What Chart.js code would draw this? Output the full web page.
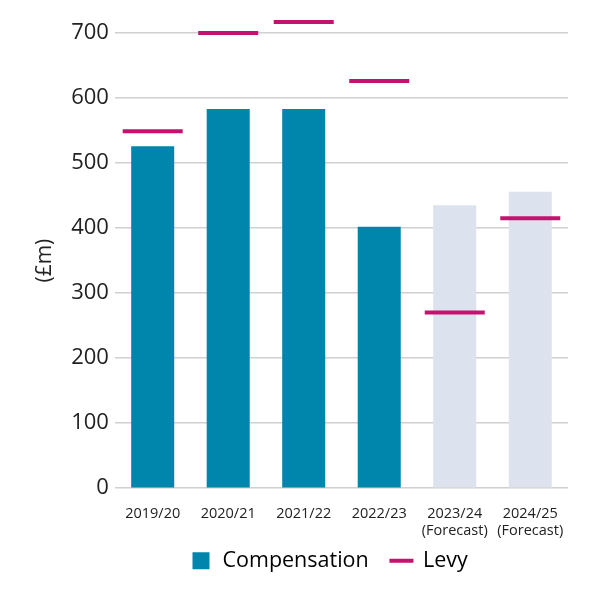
<!DOCTYPE html>
<html>
<head>
<meta charset="utf-8">
<script src="https://cdn.jsdelivr.net/npm/chart.js@4"></script>
<style>
  body { margin: 0; background: #fff; }
  #wrap { width: 591px; height: 599px; }
</style>
</head>
<body>
<div id="wrap"><canvas id="myChart"></canvas></div>
<script>
const labels = ['2019/20', '2020/21', '2021/22', '2022/23', ['2023/24', '(Forecast)'], ['2024/25', '(Forecast)']];
const compensation = [526, 583, 583, 402, 435, 456];
const levy = [549, 700, 717, 626, 270, 415];
const barColors = ['#0086ad', '#0086ad', '#0086ad', '#0086ad', '#dce3ee', '#dce3ee'];

const teal = '#0086ad';
const magenta = '#c8106e';

// nudge the legend so it sits under the plot area like in the original
const legendShift = {
    id: 'legendShift',
    afterLayout(chart) {
        const lg = chart.legend;
        lg.left += 31;
        lg.right += 31;
        lg.top -= 21;
        lg.bottom -= 21;
    }
};

function createChart() {
    const ctx = document.getElementById('myChart');
    new Chart(ctx, {
        data: {
            labels: labels,
            datasets: [{
                type: 'bar',
                label: 'Compensation',
                data: compensation,
                backgroundColor: barColors,
                barPercentage: 0.57,
                categoryPercentage: 1,
                order: 2
            }, {
                type: 'line',
                label: 'Levy',
                data: levy,
                showLine: false,
                pointStyle: 'line',
                pointRadius: 30,
                pointHoverRadius: 30,
                borderColor: magenta,
                backgroundColor: magenta,
                borderWidth: 4,
                clip: false,
                order: 1
            }]
        },
        options: {
            responsive: true,
            maintainAspectRatio: false,
            animation: false,
            layout: { autoPadding: false, padding: { top: 33, right: 23, left: 28, bottom: 2 } },
            plugins: {
                tooltip: { enabled: false },
                legend: {
                    position: 'bottom',
                    maxHeight: 48,
                    labels: {
                        usePointStyle: true,
                        boxHeight: 17,
                        padding: 22,
                        color: '#222',
                        font: { size: 21.5, family: 'Open Sans' },
                        generateLabels: function () {
                            return [
                                { text: 'Compensation', fillStyle: teal, strokeStyle: teal, lineWidth: 0, pointStyle: 'rect', datasetIndex: 0 },
                                { text: 'Levy', fillStyle: magenta, strokeStyle: magenta, lineWidth: 4, pointStyle: 'line', datasetIndex: 1 }
                            ];
                        }
                    }
                }
            },
            scales: {
                x: {
                    grid: { display: false },
                    border: { display: false },
                    ticks: { color: '#222', padding: 9, font: { size: 14.5, family: 'Open Sans' }, maxRotation: 0 },
                    afterFit: function (scale) { scale.paddingRight = 0; }
                },
                y: {
                    min: 0,
                    max: 700,
                    ticks: { stepSize: 100, color: '#222', padding: 6, font: { size: 22, family: 'Open Sans' } },
                    grid: { color: '#d0d0d0', lineWidth: 1.5, drawTicks: false },
                    border: { display: false },
                    title: { display: true, text: '(£m)', color: '#222', padding: { top: 4, bottom: 8 }, font: { size: 21, family: 'Open Sans' } }
                }
            }
        },
        plugins: [legendShift]
    });
}

createChart();
</script>
</body>
</html>
